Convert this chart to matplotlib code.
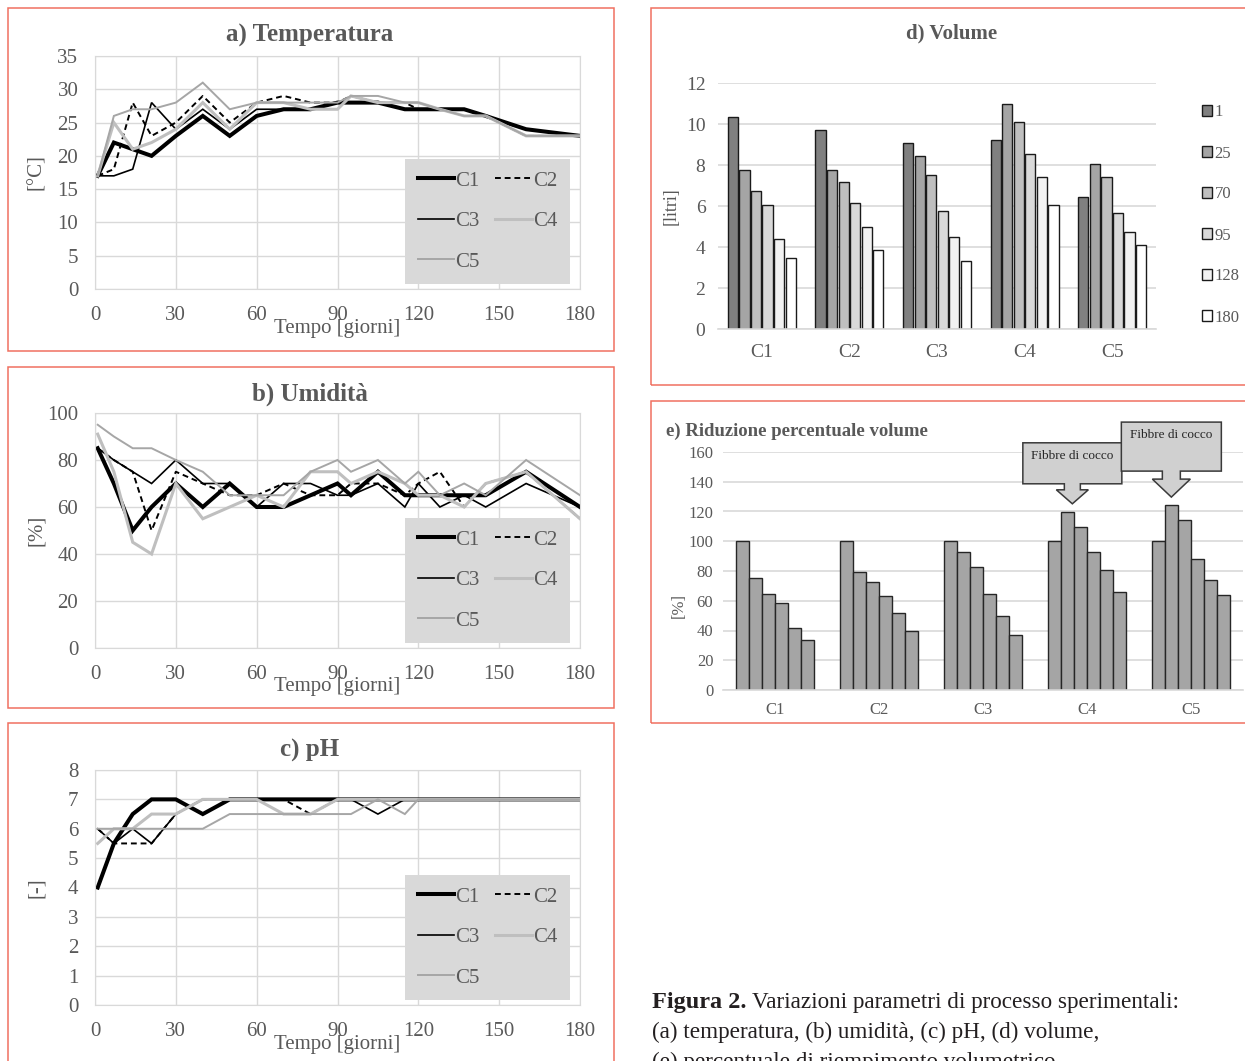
import matplotlib.pyplot as plt
import numpy as np
from matplotlib.patches import Rectangle, Polygon
from matplotlib.transforms import IdentityTransform

plt.rcParams["font.family"] = ["Liberation Serif", "DejaVu Serif"]

W, H = 1245, 1061
GRID = "#d9d9d9"
TXT = "#595959"

# giorni di campionamento
days = [1, 7, 14, 21, 30, 40, 50, 60, 70, 80, 90, 95, 105, 115, 120, 128, 137, 145, 160, 180]
series_names = ["C1", "C2", "C3", "C4", "C5"]

temp_c1 = [17, 22, 21, 20, 23, 26, 23, 26, 27, 27, 28, 28, 28, 27, 27, 27, 27, 26, 24, 23]
temp_c2 = [17, 18, 28, 23, 25, 29, 25, 28, 29, 28, 28, 29, 28, 28, 27, 27, 27, 26, 23, 23]
temp_c3 = [17, 17, 18, 28, 24, 27, 24, 27, 27, 27, 28, 28, 28, 27, 27, 27, 27, 26, 24, 23]
temp_c4 = [17, 25, 21, 22, 24, 28, 24, 28, 28, 27, 27, 29, 28, 28, 28, 27, 26, 26, 23, 23]
temp_c5 = [17, 26, 27, 27, 28, 31, 27, 28, 28, 28, 28, 29, 29, 28, 28, 27, 26, 26, 23, 23]

umid_c1 = [85, 70, 50, 60, 70, 60, 70, 60, 60, 65, 70, 65, 75, 65, 65, 65, 65, 65, 75, 60]
umid_c2 = [85, 80, 75, 50, 75, 70, 65, 65, 70, 65, 65, 70, 70, 65, 70, 75, 60, 70, 75, 55]
umid_c3 = [85, 80, 75, 70, 80, 70, 70, 60, 70, 70, 65, 65, 70, 60, 70, 60, 65, 60, 70, 60]
umid_c4 = [91, 75, 45, 40, 70, 55, 60, 65, 60, 75, 75, 70, 75, 70, 65, 65, 60, 70, 75, 55]
umid_c5 = [95, 90, 85, 85, 80, 75, 65, 65, 65, 75, 80, 75, 80, 70, 75, 65, 70, 65, 80, 65]

ph_c1 = [4, 5.5, 6.5, 7, 7, 6.5, 7, 7, 7, 7, 7, 7, 7, 7, 7, 7, 7, 7, 7, 7]
ph_c2 = [6, 5.5, 5.5, 5.5, 6.5, 7, 7, 7, 7, 6.5, 7, 7, 7, 7, 7, 7, 7, 7, 7, 7]
ph_c3 = [6, 5.5, 6, 5.5, 6.5, 7, 7, 7, 7, 7, 7, 7, 6.5, 7, 7, 7, 7, 7, 7, 7]
ph_c4 = [5.5, 6, 6, 6.5, 6.5, 7, 7, 7, 6.5, 6.5, 7, 7, 7, 7, 7, 7, 7, 7, 7, 7]
ph_c5 = [6, 6, 6, 6, 6, 6, 6.5, 6.5, 6.5, 6.5, 6.5, 6.5, 7, 6.5, 7, 7, 7, 7, 7, 7]

# volume [litri] per giorno di misura
vol_days = ["1", "25", "70", "95", "128", "180"]
vol_c1 = [10.35, 7.78, 6.74, 6.05, 4.38, 3.47]
vol_c2 = [9.70, 7.78, 7.15, 6.17, 5.00, 3.85]
vol_c3 = [9.07, 8.42, 7.50, 5.78, 4.50, 3.33]
vol_c4 = [9.20, 11.0, 10.1, 8.56, 7.40, 6.05]
vol_c5 = [6.42, 8.05, 7.40, 5.65, 4.75, 4.12]

# riduzione percentuale
rid_c1 = [100, 75.1, 64.3, 58.2, 42.0, 33.8]
rid_c2 = [100, 79.6, 72.8, 63.4, 51.5, 39.8]
rid_c3 = [100, 92.6, 83.0, 64.3, 49.9, 36.9]
rid_c4 = [100, 119.8, 109.7, 92.8, 80.4, 66.0]
rid_c5 = [100, 124.3, 114.2, 88.3, 73.7, 63.6]

line_styles = [
    dict(color="black", lw=2.9),
    dict(color="black", lw=1.4, dashes=(3, 2)),
    dict(color="black", lw=1.2),
    dict(color="#bfbfbf", lw=2.2),
    dict(color="#a6a6a6", lw=1.4),
]
vol_colors = ["#808080", "#a5a5a5", "#bfbfbf", "#d9d9d9", "#f2f2f2", "#ffffff"]

fig = plt.figure(figsize=(W / 100, H / 100), dpi=100)


def px_axes(x0, y0, x1, y1):
    return fig.add_axes([x0 / W, 1 - y1 / H, (x1 - x0) / W, (y1 - y0) / H])


def px_text(x, y, s, **kw):
    return fig.text(x / W, 1 - y / H, s, **kw)


# cornici rosse dei pannelli
for x0, y0, x1, y1 in [(8, 8, 614, 351), (8, 367, 614, 708), (8, 723, 614, 1075),
                       (651, 8, 1260, 385), (651, 401, 1260, 723)]:
    fig.patches.append(Rectangle((x0 / W, 1 - y1 / H), (x1 - x0) / W, (y1 - y0) / H,
                                 transform=fig.transFigure, fill=False,
                                 edgecolor="#f07060", lw=1.1))


def line_panel(box, data, ymax, ystep, title, ylabel, title_y):
    ax = px_axes(*box)
    handles = []
    for name, ys, st in zip(series_names, data, line_styles):
        h, = ax.plot(days, ys, label=name, solid_joinstyle="miter", **st)
        handles.append(h)
    ax.set_xlim(0, 180)
    ax.set_ylim(0, ymax)
    ax.set_xticks(range(0, 181, 30))
    ax.set_yticks(np.arange(0, ymax + 0.01, ystep))
    ax.grid(True, color=GRID, lw=1)
    ax.set_axisbelow(True)
    for sp in ax.spines.values():
        sp.set_color(GRID)
    ax.tick_params(length=0, labelsize=15, labelcolor=TXT)
    ax.tick_params(axis="y", pad=12)
    ax.tick_params(axis="x", pad=12)
    # legenda a due colonne letta per righe: C1 C2 / C3 C4 / C5
    order = [0, 2, 4, 1, 3]
    leg = ax.legend([handles[i] for i in order], [series_names[i] for i in order],
                    ncol=2, loc="lower right", bbox_to_anchor=(0.979, 0.021),
                    fontsize=15, frameon=True, facecolor="#d9d9d9", edgecolor="none",
                    framealpha=1, fancybox=False, handlelength=1.75, handletextpad=0.05,
                    columnspacing=0.75, labelspacing=1.0, borderpad=0.6,
                    borderaxespad=0)
    for t in leg.get_texts():
        t.set_color(TXT)
    x0, y0, x1, y1 = box
    px_text((x0 + x1) / 2 - 28, title_y, title, ha="center", va="center",
            fontsize=18, fontweight="bold", color=TXT)
    px_text(337, y1 + 39, "Tempo [giorni]", ha="center", va="center",
            fontsize=15, color=TXT)
    px_text(37, (y0 + y1) / 2, ylabel, ha="center", va="center",
            fontsize=15, color=TXT, rotation=90)
    return ax


line_panel((95, 56, 580, 289), [temp_c1, temp_c2, temp_c3, temp_c4, temp_c5],
           35, 5, "a) Temperatura", "[°C]", 35)
line_panel((95, 413, 580, 648), [umid_c1, umid_c2, umid_c3, umid_c4, umid_c5],
           100, 20, "b) Umidità", "[%]", 394)
line_panel((95, 770, 580, 1005), [ph_c1, ph_c2, ph_c3, ph_c4, ph_c5],
           8, 1, "c) pH", "[-]", 750)

# d) Volume
axd = px_axes(718, 83, 1156, 329)
vol_data = np.array([vol_c1, vol_c2, vol_c3, vol_c4, vol_c5])
xg = np.arange(len(series_names))
step = 0.132
for i, lab in enumerate(vol_days):
    axd.bar(xg + (i - 2.5) * step, vol_data[:, i], width=step * 0.88,
            color=vol_colors[i], edgecolor="#1a1a1a", lw=1, label=lab)
axd.set_xlim(-0.5, 4.5)
axd.set_ylim(0, 12)
axd.set_yticks(range(0, 13, 2))
axd.set_xticks(xg, series_names)
axd.yaxis.grid(True, color=GRID, lw=1.2)
axd.set_axisbelow(True)
for sp in ["top", "right", "left"]:
    axd.spines[sp].set_visible(False)
axd.spines["bottom"].set_color(GRID)
axd.spines["bottom"].set_linewidth(1.2)
axd.tick_params(length=0, labelsize=14, labelcolor=TXT)
axd.tick_params(axis="y", pad=9)
axd.tick_params(axis="x", pad=11)
legd = axd.legend(loc="center left", bbox_to_anchor=(1202 / W, 1 - 215 / H),
                  bbox_transform=fig.transFigure, frameon=False, fontsize=12,
                  handlelength=0.6, handleheight=0.6, handletextpad=0.15,
                  labelspacing=1.5, borderpad=0, borderaxespad=0)
for t in legd.get_texts():
    t.set_color(TXT)
px_text(952, 33, "d) Volume", ha="center", va="center", fontsize=15,
        fontweight="bold", color=TXT)
px_text(671, 206, "[litri]", ha="center", va="center", fontsize=13,
        color=TXT, rotation=90)

# e) Riduzione percentuale volume
axe = px_axes(723, 452, 1243, 690)
rid_data = np.array([rid_c1, rid_c2, rid_c3, rid_c4, rid_c5])
step_e = 0.126
for i in range(len(vol_days)):
    axe.bar(xg + (i - 2.5) * step_e, rid_data[:, i], width=step_e,
            color="#a5a5a5", edgecolor="#262626", lw=1)
axe.set_xlim(-0.5, 4.5)
axe.set_ylim(0, 160)
axe.set_yticks(range(0, 161, 20))
axe.set_xticks(xg, series_names)
axe.yaxis.grid(True, color=GRID, lw=1.2)
axe.set_axisbelow(True)
for sp in ["top", "right", "left"]:
    axe.spines[sp].set_visible(False)
axe.spines["bottom"].set_color(GRID)
axe.spines["bottom"].set_linewidth(1.2)
axe.tick_params(length=0, labelsize=12, labelcolor=TXT)
axe.tick_params(axis="y", pad=7)
axe.tick_params(axis="x", pad=9)
px_text(666, 431, "e) Riduzione percentuale volume", ha="left", va="center",
        fontsize=13.5, fontweight="bold", color=TXT)
px_text(679, 606, "[%]", ha="center", va="center", fontsize=12,
        color=TXT, rotation=90)


def callout(ax, xdata, ydata, dx_tip, box_w, box_h, shaft_h, shaft_w, head_w, head_h):
    # freccia-fumetto stile Excel, con la punta sulla barra indicata
    tx, ty = ax.transData.transform((xdata, ydata))
    tx += dx_tip
    ty += 8
    hb = ty + head_h
    sb = hb + shaft_h
    pts = [
        (tx, ty),
        (tx - head_w / 2, hb), (tx - shaft_w / 2, hb), (tx - shaft_w / 2, sb),
        (tx - box_w / 2, sb), (tx - box_w / 2, sb + box_h),
        (tx + box_w / 2, sb + box_h), (tx + box_w / 2, sb),
        (tx + shaft_w / 2, sb), (tx + shaft_w / 2, hb), (tx + head_w / 2, hb),
    ]
    fig.patches.append(Polygon(pts, closed=True, transform=IdentityTransform(),
                               facecolor="#d0d0d0", edgecolor="#3a3a3a", lw=1.1,
                               zorder=5))
    fig.text(tx / W, (sb + box_h - 13) / H, "Fibbre di cocco", ha="center",
             va="center", fontsize=9.5, color="#262626", zorder=6)


fig.canvas.draw()
callout(axe, 3 - 1.5 * step_e, rid_c4[1], 5, 99, 41, 6, 16, 32, 14)
callout(axe, 4 - 1.5 * step_e, rid_c5[1], 0, 100, 49, 8, 18, 38, 18)

# didascalia
cap = px_text(652, 1008, "Figura 2.", ha="left", va="baseline", fontsize=17.5,
              fontweight="bold", color="#231f20")
fig.canvas.draw()
bb = cap.get_window_extent()
fig.text((bb.x1 + 5) / W, 1 - 1008 / H, "Variazioni parametri di processo sperimentali:",
         ha="left", va="baseline", fontsize=16.7, color="#231f20")
px_text(652, 1038, "(a) temperatura, (b) umidità, (c) pH, (d) volume,",
        ha="left", va="baseline", fontsize=16.7, color="#231f20")
px_text(652, 1068, "(e) percentuale di riempimento volumetrico",
        ha="left", va="baseline", fontsize=16.7, color="#231f20")

fig.savefig("out.png", dpi=100)
